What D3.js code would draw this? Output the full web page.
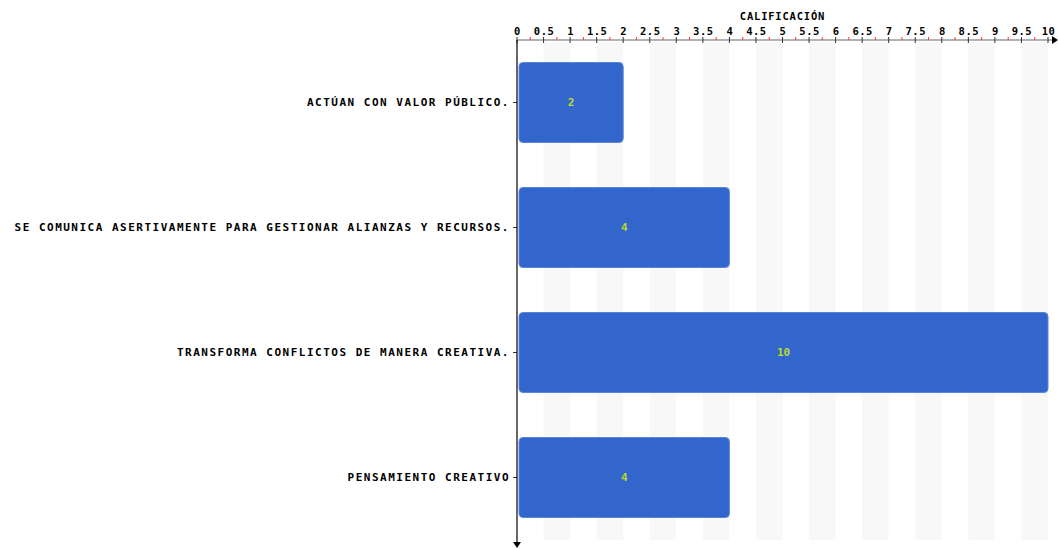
<!DOCTYPE html>
<html>
<head>
<meta charset="utf-8">
<script src="https://cdn.jsdelivr.net/npm/d3@7"></script>
<style>
  body { margin: 0; background: #fff; }
  text { font-family: "DejaVu Sans Mono", monospace; font-weight: bold; text-transform: uppercase; }
</style>
</head>
<body>
<svg id="chart" width="1059" height="549"></svg>
<script>
const categories = [
  "Actúan con valor público.",
  "Se comunica asertivamente para gestionar alianzas y recursos.",
  "Transforma conflictos de manera creativa.",
  "Pensamiento creativo"
];
const values = [2, 4, 10, 4];
const tickValues = [0, 0.5, 1, 1.5, 2, 2.5, 3, 3.5, 4, 4.5, 5, 5.5, 6, 6.5, 7, 7.5, 8, 8.5, 9, 9.5, 10];
const axisTitle = "Calificación";

const svg = d3.select("#chart");
const margin = {top: 40, left: 517, right: 11, bottom: 9};
const width = 1059, height = 549;

const x = d3.scaleLinear().domain([0, 10]).range([margin.left, width - margin.right]);
const y = d3.scaleBand().domain(categories).range([margin.top, 540]).paddingInner(0.36).paddingOuter(0.18);

// alternating stripes
const stripes = d3.range(0, 10, 0.5).filter((d, i) => i % 2 === 1);
svg.append("g").selectAll("rect")
  .data(stripes)
  .enter().append("rect")
    .attr("x", d => x(d))
    .attr("y", margin.top + 2)
    .attr("width", d => x(d + 0.5) - x(d))
    .attr("height", 540 - margin.top - 2)
    .attr("fill", "#f8f8f8");

// bars
svg.append("g").selectAll("rect")
  .data(values)
  .enter().append("rect")
    .attr("x", x(0) + 2)
    .attr("y", (d, i) => y(categories[i]))
    .attr("width", d => x(d) - x(0) - 2)
    .attr("height", y.bandwidth())
    .attr("rx", 4)
    .attr("fill", "#3366cc")
    .attr("stroke", "#5a85dc")
    .attr("stroke-width", 1);

svg.append("g").selectAll("text")
  .data(values)
  .enter().append("text")
    .attr("x", d => (x(0) + 2 + x(d)) / 2)
    .attr("y", (d, i) => y(categories[i]) + y.bandwidth() / 2)
    .attr("dy", "0.35em")
    .attr("text-anchor", "middle")
    .attr("font-size", 11)
    .attr("fill", "#b9dc2c")
    .text(d => d);

// x axis (top)
const xAxis = d3.axisTop(x).tickValues(tickValues).tickSize(0).tickPadding(5)
  .tickFormat(d => String(d));
const gx = svg.append("g").attr("transform", `translate(0,${margin.top})`).call(xAxis);
gx.select(".domain").remove();
gx.selectAll("text")
  .attr("font-size", 10.5)
  .attr("letter-spacing", 0.5)
  .attr("fill", "#000")
  .style("font-family", "\"DejaVu Sans Mono\", monospace")
  .style("font-weight", "bold");

svg.append("line")
  .attr("x1", x(0)).attr("x2", width - 6)
  .attr("y1", margin.top).attr("y2", margin.top)
  .attr("stroke", "#666").attr("stroke-width", 1.2);
svg.append("path")
  .attr("d", `M${width - 7},${margin.top - 4}L${width - 1},${margin.top}L${width - 7},${margin.top + 4}Z`)
  .attr("fill", "#000");

// major ticks
svg.append("g").selectAll("line")
  .data(tickValues)
  .enter().append("line")
    .attr("x1", d => x(d)).attr("x2", d => x(d))
    .attr("y1", margin.top - 3).attr("y2", margin.top + 3)
    .attr("stroke", "#333").attr("stroke-width", 1);

// minor red ticks
svg.append("g").selectAll("line")
  .data(d3.range(0.25, 10, 0.5))
  .enter().append("line")
    .attr("x1", d => x(d)).attr("x2", d => x(d))
    .attr("y1", margin.top - 3).attr("y2", margin.top)
    .attr("stroke", "#ff3333").attr("stroke-width", 1);

svg.append("text")
  .attr("x", (x(0) + x(10)) / 2)
  .attr("y", 20)
  .attr("text-anchor", "middle")
  .attr("font-size", 10.5)
  .attr("letter-spacing", 0.8)
  .attr("fill", "#000")
  .text(axisTitle);

// y axis (left)
const yAxis = d3.axisLeft(y).tickSize(4).tickPadding(3);
const gy = svg.append("g").attr("transform", `translate(${margin.left},0)`).call(yAxis);
gy.select(".domain").remove();
gy.selectAll(".tick line").attr("stroke", "#333");
gy.selectAll("text")
  .attr("font-size", 11)
  .attr("letter-spacing", 1.5)
  .attr("fill", "#000")
  .style("font-family", "\"DejaVu Sans Mono\", monospace")
  .style("font-weight", "bold");

svg.append("line")
  .attr("x1", margin.left).attr("x2", margin.left)
  .attr("y1", margin.top).attr("y2", height - 6)
  .attr("stroke", "#000").attr("stroke-width", 1.2);
svg.append("path")
  .attr("d", `M${margin.left - 4},${height - 7}L${margin.left},${height - 1}L${margin.left + 4},${height - 7}Z`)
  .attr("fill", "#000");
</script>
</body>
</html>
